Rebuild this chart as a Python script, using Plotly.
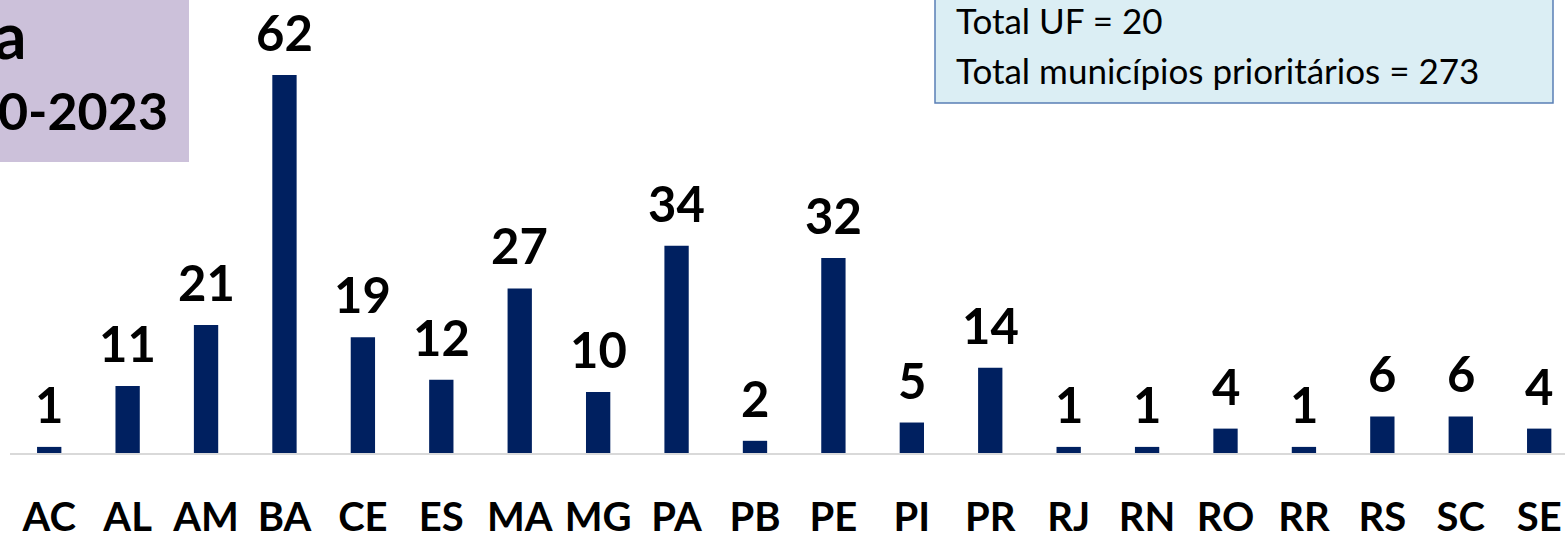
import plotly.graph_objects as go

categories = ["AC", "AL", "AM", "BA", "CE", "ES", "MA", "MG", "PA", "PB",
              "PE", "PI", "PR", "RJ", "RN", "RO", "RR", "RS", "SC", "SE"]
values = [1, 11, 21, 62, 19, 12, 27, 10, 34, 2, 32, 5, 14, 1, 1, 4, 1, 6, 6, 4]

title_line1 = "Municípios prioritários por UF para a"
title_line2 = "Estratégia 2020-2023"
info_line1 = "Total UF = 20"
info_line2 = "Total municípios prioritários = 273"

W, H = 1565, 533
ML, MR, MT, MB = 10, 0, 0, 80
PW = W - ML - MR
PH = H - MT - MB


def px(x):
    return (x - ML) / PW


def py(y):
    return (H - MB - y) / PH


BAR = "#002060"
FONT = "Lato"

fig = go.Figure()
fig.add_trace(go.Bar(
    x=list(range(len(categories))), y=values,
    width=0.31, marker=dict(color=BAR, line=dict(width=0)),
    hoverinfo="skip",
))

annotations = []
for i, v in enumerate(values):
    annotations.append(dict(
        x=i, y=v, xref="x", yref="y", text=str(v), showarrow=False,
        yanchor="bottom", yshift=12,
        font=dict(family=FONT, size=49, color="black", weight="bold"),
    ))

# top-left title box (cut by the figure edge)
annotations.append(dict(
    x=px(29), y=py(34), xref="paper", yref="paper", text=title_line1,
    xanchor="right", yanchor="middle", showarrow=False,
    font=dict(family=FONT, size=64, color="black", weight="bold"),
))
annotations.append(dict(
    x=px(170), y=py(110), xref="paper", yref="paper", text=title_line2,
    xanchor="right", yanchor="middle", showarrow=False,
    font=dict(family=FONT, size=52, color="black", weight="bold"),
))
# top-right info box
annotations.append(dict(
    x=px(954), y=py(20), xref="paper", yref="paper", text=info_line1,
    xanchor="left", yanchor="middle", showarrow=False,
    font=dict(family=FONT, size=35, color="black"),
))
annotations.append(dict(
    x=px(954), y=py(70), xref="paper", yref="paper", text=info_line2,
    xanchor="left", yanchor="middle", showarrow=False,
    font=dict(family=FONT, size=35, color="black"),
))

shapes = [
    dict(type="rect", xref="paper", yref="paper",
         x0=px(-20), x1=px(189), y0=py(162), y1=py(-20),
         fillcolor="#CCC1DA", line=dict(width=0), layer="below"),
    dict(type="rect", xref="paper", yref="paper",
         x0=px(935), x1=px(1553), y0=py(103), y1=py(-20),
         fillcolor="#DBEEF4", line=dict(color="#5A7FB5", width=1.5), layer="below"),
]

fig.update_layout(
    width=W, height=H,
    margin=dict(l=ML, r=MR, t=MT, b=MB, autoexpand=False),
    paper_bgcolor="white", plot_bgcolor="rgba(0,0,0,0)",
    showlegend=False,
    annotations=annotations,
    shapes=shapes,
    xaxis=dict(
        range=[-0.5, -0.5 + PW / 78.42],
        tickmode="array", tickvals=list(range(len(categories))), ticktext=categories,
        showline=True, linecolor="#D9D9D9", linewidth=2,
        showgrid=False, zeroline=False, ticks="",
        automargin=False,
        ticklabelstandoff=28,
        tickfont=dict(family=FONT, size=40, color="black", weight="bold"),
    ),
    yaxis=dict(
        range=[0, PH / 6.097], visible=False, showgrid=False, zeroline=False,
        automargin=False,
    ),
)

fig.write_html(
    "out.html",
    config={"displayModeBar": False},
    post_script="document.body.style.margin='0';document.body.style.padding='0';"
                "document.body.style.overflow='hidden';",
)
